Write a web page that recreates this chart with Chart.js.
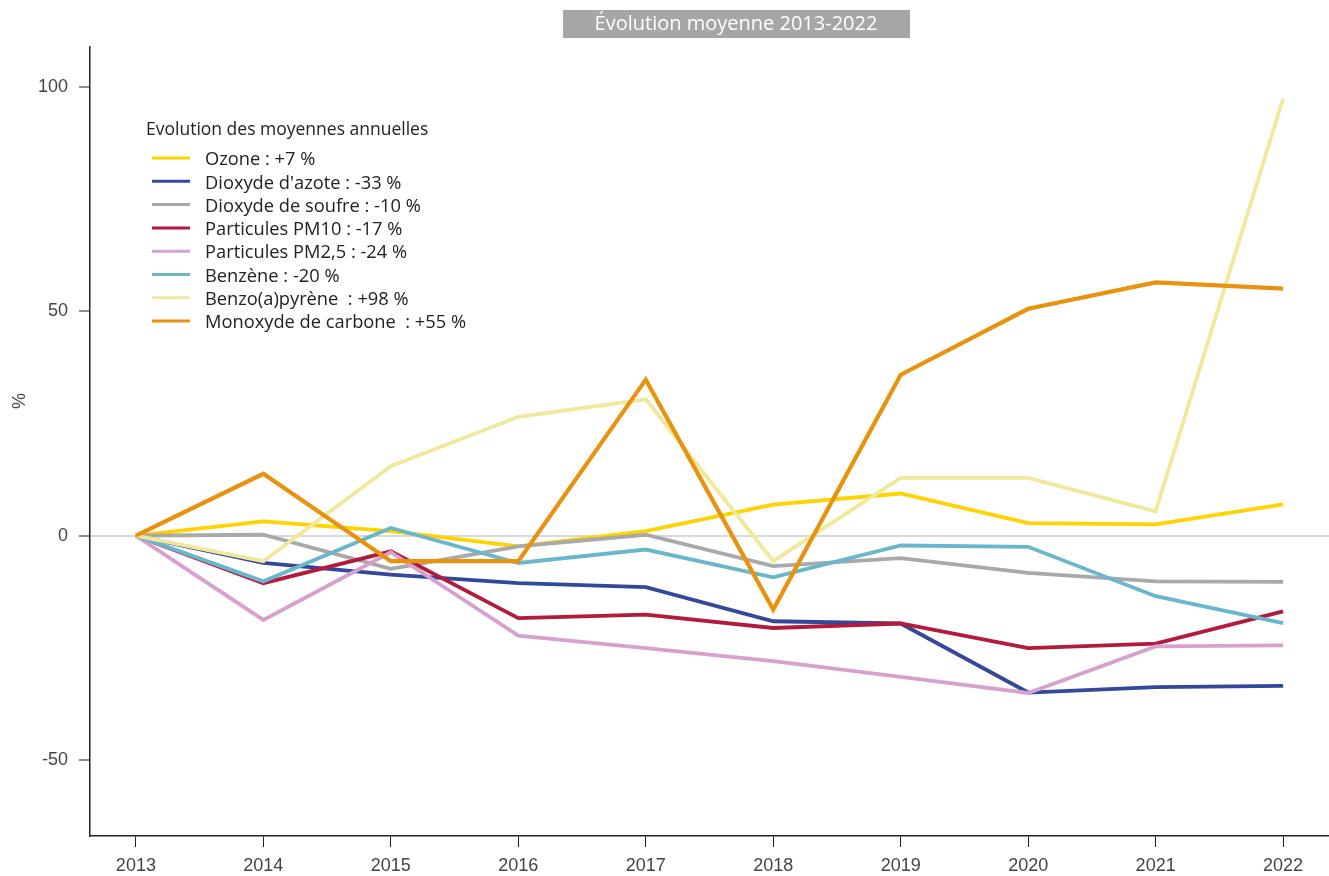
<!DOCTYPE html>
<html lang="fr">
<head>
<meta charset="UTF-8">
<title>Évolution moyenne 2013-2022</title>
<script src="https://cdn.jsdelivr.net/npm/chart.js@4.4.0/dist/chart.umd.min.js"></script>
<style>
  html, body { margin: 0; padding: 0; background: #fff; }
  .wrap { position: relative; width: 1329px; height: 876px; }
</style>
</head>
<body>
<div class="wrap"><canvas id="chart"></canvas></div>
<script>
// data
const years = [2013, 2014, 2015, 2016, 2017, 2018, 2019, 2020, 2021, 2022];
const yTicks = [-50, 0, 50, 100];

const ozone   = [0, 3.2, 1.0, -2.4, 1.0, 6.9, 9.4, 2.8, 2.5, 7.0];
const no2     = [0, -6.1, -8.7, -10.6, -11.5, -19.1, -19.6, -35.0, -33.8, -33.5];
const so2     = [0, 0.2, -7.4, -2.4, 0.2, -6.8, -5.0, -8.3, -10.2, -10.3];
const pm10    = [0, -10.6, -3.5, -18.4, -17.6, -20.6, -19.6, -25.1, -24.1, -16.9];
const pm25    = [0, -18.8, -3.7, -22.3, -25.1, -28.0, -31.5, -35.1, -24.7, -24.5];
const benzene = [0, -10.2, 1.7, -6.1, -3.1, -9.3, -2.2, -2.5, -13.5, -19.5];
const bap     = [0, -5.7, 15.5, 26.5, 30.4, -5.7, 12.9, 12.9, 5.4, 97.5];
const co      = [0, 13.8, -5.7, -5.7, 34.8, -16.5, 35.9, 50.6, 56.5, 55.1];

const seriesLabels = [
  'Ozone : +7 %',
  "Dioxyde d'azote : -33 %",
  'Dioxyde de soufre : -10 %',
  'Particules PM10 : -17 %',
  'Particules PM2,5 : -24 %',
  'Benzène : -20 %',
  'Benzo(a)pyrène  : +98 %',
  'Monoxyde de carbone  : +55 %'
];
const seriesValues = [ozone, no2, so2, pm10, pm25, benzene, bap, co];
const seriesColors = ['#FFD200', '#33489A', '#A9A9A9', '#B31A3C', '#D7A1CF', '#6AB6CD', '#F1E89B', '#E8920E'];

const titleText = 'Évolution moyenne 2013-2022';
const legendTitle = 'Evolution des moyennes annuelles';

const datasets = seriesValues.map((vals, i) => ({
  label: seriesLabels[i],
  data: vals.map((v, j) => ({ x: years[j], y: v })),
  borderColor: seriesColors[i],
  backgroundColor: seriesColors[i],
  borderWidth: i === 7 ? 4.2 : 3.8,
  pointRadius: 0,
  tension: 0,
  borderJoinStyle: 'miter',
  order: seriesValues.length - 1 - i   // later series drawn on top
}));

// title box, y axis label and the legend, drawn on the canvas
const decorPlugin = {
  id: 'decor',
  afterDraw(chart) {
    const ctx = chart.ctx;
    ctx.save();

    // grey title box
    ctx.fillStyle = '#A6A6A6';
    ctx.fillRect(563, 10, 347, 28);
    ctx.fillStyle = '#fff';
    ctx.font = '20px "Open Sans", sans-serif';
    ctx.textAlign = 'center';
    ctx.textBaseline = 'middle';
    ctx.fillText(titleText, 736, 24);

    // y axis label
    ctx.save();
    ctx.translate(20, 401);
    ctx.rotate(-Math.PI / 2);
    ctx.fillStyle = '#444';
    ctx.font = '18px "Liberation Sans", sans-serif';
    ctx.fillText('%', 0, 0);
    ctx.restore();

    // legend
    ctx.textAlign = 'left';
    ctx.fillStyle = '#222';
    ctx.font = '17.5px "Open Sans", sans-serif';
    ctx.fillText(legendTitle, 146, 130);
    ctx.font = '18.3px "Open Sans", sans-serif';
    chart.data.datasets.forEach((ds, i) => {
      const y = 160 + i * 23.3;
      ctx.strokeStyle = ds.borderColor;
      ctx.lineWidth = 3;
      ctx.beginPath();
      ctx.moveTo(152, y - 2);
      ctx.lineTo(190, y - 2);
      ctx.stroke();
      ctx.fillStyle = '#222';
      ctx.fillText(ds.label, 205, y);
    });
    ctx.restore();
  }
};

new Chart(document.getElementById('chart'), {
  type: 'line',
  data: { datasets: datasets },
  options: {
    responsive: true,
    maintainAspectRatio: false,
    animation: false,
    layout: { padding: { top: 47, right: 0, left: 0, bottom: 0 } },
    plugins: {
      legend: { display: false },
      title: { display: false },
      tooltip: { enabled: false }
    },
    scales: {
      x: {
        type: 'linear',
        min: 2012.64,
        max: 2022.36,
        afterBuildTicks: s => { s.ticks = years.map(v => ({ value: v })); },
        afterFit: s => { s.height = 40; },
        border: { display: true, color: '#222', width: 1.5 },
        grid: { drawOnChartArea: false, drawTicks: true, tickLength: 11, tickColor: '#222', tickWidth: 1 },
        ticks: {
          color: '#444',
          padding: 8,
          maxRotation: 0,
          font: { family: 'Liberation Sans', size: 18 },
          callback: v => String(v)
        }
      },
      y: {
        min: -67,
        max: 109,
        afterBuildTicks: s => { s.ticks = yTicks.map(v => ({ value: v })); },
        afterFit: s => { s.width = 90; },
        border: { display: true, color: '#222', width: 1.5 },
        grid: {
          drawOnChartArea: true,
          drawTicks: true,
          tickLength: 11,
          color: c => (c.tick && c.tick.value === 0) ? '#D9D9D9' : 'rgba(0,0,0,0)',
          lineWidth: 2,
          tickColor: '#222',
          tickWidth: 1
        },
        ticks: {
          color: '#444',
          padding: 11,
          font: { family: 'Liberation Sans', size: 18 },
          callback: v => String(v)
        }
      }
    }
  },
  plugins: [decorPlugin]
});
</script>
</body>
</html>
